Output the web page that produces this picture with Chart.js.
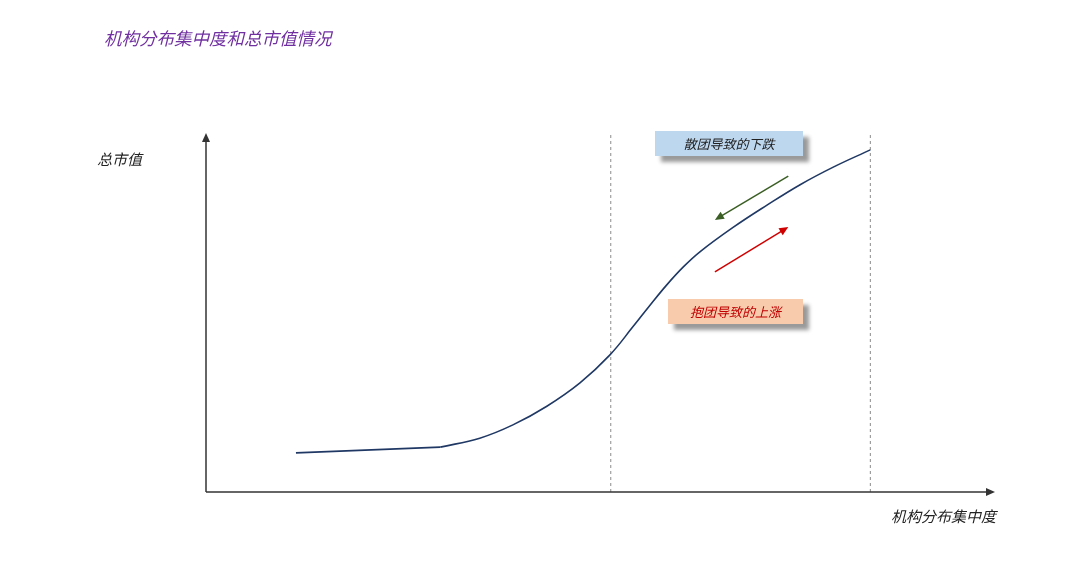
<!DOCTYPE html>
<html>
<head>
<meta charset="utf-8">
<script src="https://cdn.jsdelivr.net/npm/chart.js@4/dist/chart.umd.min.js"></script>
<style>
  body { margin: 0; background: #fff; }
  #wrap { position: relative; width: 1080px; height: 582px; font-family: "Noto Sans CJK SC", sans-serif; }
  canvas { position: absolute; left: 0; top: 0; }
  .txt { position: absolute; font-style: italic; white-space: nowrap; line-height: 1; }
  #title { left: 104px; top: 29px; font-size: 17.5px; color: #7030A0; }
  #ylab { left: 97px; top: 151px; font-size: 15px; color: #222; }
  #xlab { left: 891px; top: 508px; font-size: 15px; color: #222; }
  .box { position: absolute; height: 25px; display: flex; align-items: center; justify-content: center;
         font-size: 13px; font-style: italic; box-shadow: 6px 6px 4px #9a9a9a; }
  #boxDown { left: 655px; top: 131px; width: 148px; background: #BDD7EE; color: #222; }
  #boxUp { left: 668px; top: 299px; width: 135px; background: #F8CBAD; color: #C00000; }
</style>
</head>
<body>
<div id="wrap">
  <canvas id="chart" width="1080" height="582"></canvas>
  <div class="txt" id="title">机构分布集中度和总市值情况</div>
  <div class="txt" id="ylab">总市值</div>
  <div class="txt" id="xlab">机构分布集中度</div>
  <div class="box" id="boxDown">散团导致的下跌</div>
  <div class="box" id="boxUp">抱团导致的上涨</div>
</div>
<script>
// 概念曲线：机构集中度 (x) 与总市值 (y)，0-100 示意刻度
const curveX = [11.4, 29.7, 34.7, 38.9, 43.2, 47.4, 51.2, 54.1, 56.3, 58.4, 60.5, 62.6, 66.8, 71.1, 75.3, 79.5, 84.2];
const curveY = [10.9, 12.5, 15.0, 18.7, 23.9, 30.4, 38.2, 46.0, 52.1, 57.7, 62.7, 66.9, 73.7, 79.9, 85.6, 90.5, 95.3];

// 两条虚线的位置
const dashX = [51.3, 84.2];

// 箭头：[起点x, 起点y, 终点x, 终点y]
const axisArrows = [[0, 0, 100, 0], [0, 0, 0, 100]];
const downArrow = [73.8, 88.0, 64.5, 75.8];
const upArrow = [64.5, 61.3, 73.8, 73.8];

const curveData = curveX.map((x, i) => ({ x: x, y: curveY[i] }));

const dashSets = dashX.map((x) => ({
  data: [{ x: x, y: 0 }, { x: x, y: 100 }],
  borderColor: "#8c8c8c",
  borderWidth: 1,
  borderDash: [3, 3],
  pointRadius: 0,
  showLine: true,
}));

const arrowList = [
  { a: axisArrows[0], color: "#333", width: 1.5 },
  { a: axisArrows[1], color: "#333", width: 1.5 },
  { a: downArrow, color: "#3A5E24", width: 1.5 },
  { a: upArrow, color: "#D00000", width: 1.5 },
];

const arrowPlugin = {
  id: "arrows",
  afterDatasetsDraw(chart) {
    const ctx = chart.ctx;
    const xs = chart.scales.x;
    const ys = chart.scales.y;
    arrowList.forEach((item) => {
      const x1 = xs.getPixelForValue(item.a[0]);
      const y1 = ys.getPixelForValue(item.a[1]);
      const x2 = xs.getPixelForValue(item.a[2]);
      const y2 = ys.getPixelForValue(item.a[3]);
      const ang = Math.atan2(y2 - y1, x2 - x1);
      const len = 9;
      const half = 4;
      ctx.save();
      ctx.strokeStyle = item.color;
      ctx.fillStyle = item.color;
      ctx.lineWidth = item.width;
      ctx.beginPath();
      ctx.moveTo(x1, y1);
      ctx.lineTo(x2 - Math.cos(ang) * len * 0.8, y2 - Math.sin(ang) * len * 0.8);
      ctx.stroke();
      ctx.beginPath();
      ctx.moveTo(x2, y2);
      ctx.lineTo(x2 - Math.cos(ang) * len - Math.sin(ang) * half, y2 - Math.sin(ang) * len + Math.cos(ang) * half);
      ctx.lineTo(x2 - Math.cos(ang) * len + Math.sin(ang) * half, y2 - Math.sin(ang) * len - Math.cos(ang) * half);
      ctx.closePath();
      ctx.fill();
      ctx.restore();
    });
  },
};

new Chart(document.getElementById("chart").getContext("2d"), {
  type: "scatter",
  data: {
    datasets: [
      {
        // 平坦段：直线
        data: curveData.slice(0, 2),
        borderColor: "#1F3864",
        borderWidth: 1.6,
        pointRadius: 0,
        showLine: true,
      },
      {
        // 上升段：平滑曲线
        data: curveData.slice(1),
        borderColor: "#1F3864",
        borderWidth: 1.6,
        pointRadius: 0,
        showLine: true,
        tension: 0.4,
      },
      ...dashSets,
    ],
  },
  options: {
    responsive: false,
    animation: false,
    layout: { padding: { left: 206, right: 85, top: 133, bottom: 90 } },
    scales: {
      x: { type: "linear", min: 0, max: 100, display: false },
      y: { type: "linear", min: 0, max: 100, display: false },
    },
    plugins: {
      legend: { display: false },
      tooltip: { enabled: false },
    },
  },
  plugins: [arrowPlugin],
});
</script>
</body>
</html>
